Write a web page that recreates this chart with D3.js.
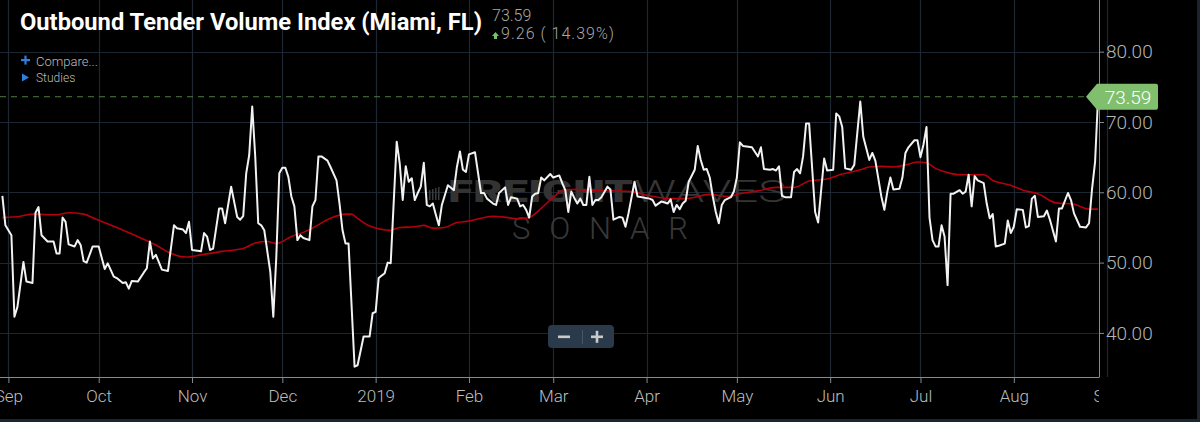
<!DOCTYPE html>
<html>
<head>
<meta charset="utf-8">
<script src="https://cdn.jsdelivr.net/npm/d3@7"></script>
<style>
  html, body { margin: 0; padding: 0; background: #000; }
  svg { display: block; font-family: Roboto, "Open Sans", sans-serif; }
</style>
</head>
<body>
<div id="chart"></div>
<script>
// Outbound Tender Volume Index (Miami, FL), daily, Sep 2018 - Aug 2019
var tenderDates = [
  "2018-08-30","2018-08-31","2018-09-02","2018-09-03","2018-09-04","2018-09-06","2018-09-07","2018-09-09",
  "2018-09-10","2018-09-11","2018-09-12","2018-09-14","2018-09-16","2018-09-17","2018-09-18","2018-09-19",
  "2018-09-20","2018-09-21","2018-09-23","2018-09-24","2018-09-25","2018-09-26","2018-09-27","2018-09-29",
  "2018-10-01","2018-10-03","2018-10-04","2018-10-06","2018-10-07","2018-10-09","2018-10-10","2018-10-11",
  "2018-10-12","2018-10-14","2018-10-16","2018-10-17","2018-10-18","2018-10-19","2018-10-20","2018-10-22",
  "2018-10-24","2018-10-26","2018-10-27","2018-10-29","2018-10-30","2018-10-31","2018-11-01","2018-11-04",
  "2018-11-05","2018-11-06","2018-11-07","2018-11-08","2018-11-10","2018-11-11","2018-11-12","2018-11-14",
  "2018-11-16","2018-11-17","2018-11-18","2018-11-19","2018-11-20","2018-11-21","2018-11-22","2018-11-23",
  "2018-11-24","2018-11-25","2018-11-27","2018-11-28","2018-11-29","2018-11-30","2018-12-01","2018-12-02",
  "2018-12-03","2018-12-04","2018-12-05","2018-12-06","2018-12-07","2018-12-08","2018-12-10","2018-12-11",
  "2018-12-12","2018-12-13","2018-12-14","2018-12-16","2018-12-17","2018-12-19","2018-12-20","2018-12-21",
  "2018-12-22","2018-12-23","2018-12-25","2018-12-26","2018-12-28","2018-12-30","2018-12-31","2019-01-01",
  "2019-01-02","2019-01-04","2019-01-05","2019-01-06","2019-01-08","2019-01-09","2019-01-10","2019-01-11",
  "2019-01-12","2019-01-13","2019-01-14","2019-01-15","2019-01-16","2019-01-17","2019-01-18","2019-01-19",
  "2019-01-20","2019-01-21","2019-01-22","2019-01-23","2019-01-25","2019-01-27","2019-01-28","2019-01-29",
  "2019-01-30","2019-01-31","2019-02-01","2019-02-03","2019-02-05","2019-02-06","2019-02-07","2019-02-09",
  "2019-02-10","2019-02-11","2019-02-13","2019-02-14","2019-02-15","2019-02-17","2019-02-18","2019-02-19",
  "2019-02-20","2019-02-21","2019-02-22","2019-02-23","2019-02-24","2019-02-25","2019-02-26","2019-02-28",
  "2019-03-01","2019-03-03","2019-03-04","2019-03-05","2019-03-06","2019-03-07","2019-03-08","2019-03-09",
  "2019-03-10","2019-03-11","2019-03-12","2019-03-13","2019-03-14","2019-03-15","2019-03-16","2019-03-17",
  "2019-03-19","2019-03-20","2019-03-21","2019-03-23","2019-03-24","2019-03-25","2019-03-26","2019-03-28",
  "2019-03-29","2019-04-02","2019-04-03","2019-04-04","2019-04-06","2019-04-08","2019-04-09","2019-04-10",
  "2019-04-11","2019-04-12","2019-04-13","2019-04-14","2019-04-15","2019-04-17","2019-04-18","2019-04-19",
  "2019-04-20","2019-04-21","2019-04-22","2019-04-23","2019-04-24","2019-04-25","2019-04-26","2019-04-27",
  "2019-04-29","2019-04-30","2019-05-01","2019-05-02","2019-05-03","2019-05-06","2019-05-08","2019-05-09",
  "2019-05-10","2019-05-12","2019-05-13","2019-05-14","2019-05-15","2019-05-16","2019-05-17","2019-05-19",
  "2019-05-20","2019-05-21","2019-05-22","2019-05-23","2019-05-24","2019-05-25","2019-05-27","2019-05-28",
  "2019-05-29","2019-05-30","2019-05-31","2019-06-02","2019-06-03","2019-06-04","2019-06-05","2019-06-06",
  "2019-06-08","2019-06-09","2019-06-11","2019-06-12","2019-06-14","2019-06-15","2019-06-16","2019-06-18",
  "2019-06-19","2019-06-20","2019-06-21","2019-06-22","2019-06-24","2019-06-25","2019-06-26","2019-06-27",
  "2019-06-29","2019-06-30","2019-07-01","2019-07-02","2019-07-03","2019-07-04","2019-07-05","2019-07-06",
  "2019-07-07","2019-07-08","2019-07-09","2019-07-10","2019-07-11","2019-07-12","2019-07-14","2019-07-15",
  "2019-07-16","2019-07-17","2019-07-18","2019-07-19","2019-07-20","2019-07-22","2019-07-23","2019-07-24",
  "2019-07-25","2019-07-26","2019-07-27","2019-07-29","2019-07-30","2019-07-31","2019-08-01","2019-08-02",
  "2019-08-04","2019-08-05","2019-08-06","2019-08-07","2019-08-08","2019-08-09","2019-08-11","2019-08-12",
  "2019-08-13","2019-08-15","2019-08-16","2019-08-17","2019-08-19","2019-08-20","2019-08-21","2019-08-23",
  "2019-08-25","2019-08-26","2019-08-27","2019-08-28","2019-08-29"
];
var tenderValues = [
  59.5, 55.3, 53.9, 42.3, 43.7, 50.1, 47.3, 47.1,
  57.1, 57.9, 53.9, 53.0, 53.0, 51.3, 51.3, 56.4,
  55.8, 52.6, 52.3, 53.2, 52.5, 50.2, 50.0, 52.3,
  52.3, 49.1, 49.9, 48.0, 47.8, 47.1, 47.2, 46.3,
  47.4, 47.3, 48.6, 49.2, 53.0, 50.6, 51.1, 49.0,
  48.8, 55.3, 54.9, 54.7, 54.2, 55.8, 51.8, 51.6,
  54.2, 53.7, 51.8, 52.0, 57.7, 57.7, 55.6, 60.8,
  56.5, 56.1, 56.6, 62.7, 65.3, 72.2, 65.1, 55.6,
  55.3, 54.6, 48.7, 42.3, 50.8, 62.7, 63.5, 63.5,
  62.2, 59.4, 58.0, 53.2, 53.9, 53.5, 53.2, 58.0,
  58.9, 65.1, 65.1, 64.5, 63.6, 61.7, 58.4, 54.6,
  52.7, 52.7, 35.2, 35.4, 39.5, 39.5, 42.8, 43.0,
  47.8, 48.5, 50.0, 49.9, 67.2, 64.1, 58.9, 63.7,
  61.5, 62.0, 58.9, 59.9, 60.8, 64.2, 58.2, 58.0,
  58.4, 56.8, 55.3, 58.2, 61.0, 60.3, 63.6, 65.8,
  63.2, 62.9, 65.4, 65.7, 59.9, 59.9, 59.1, 58.4,
  58.2, 59.9, 60.7, 58.2, 59.3, 59.1, 58.0, 58.2,
  57.5, 56.4, 59.4, 59.8, 59.9, 62.1, 61.7, 62.6,
  62.1, 62.4, 61.3, 60.3, 57.2, 60.1, 59.2, 58.4,
  59.1, 58.2, 58.2, 62.2, 58.2, 58.9, 58.9, 59.3,
  60.8, 60.4, 56.1, 56.5, 56.4, 55.1, 57.0, 61.5,
  59.4, 59.1, 58.9, 58.1, 58.7, 58.4, 59.0, 57.2,
  58.2, 57.6, 58.4, 58.8, 61.5, 63.2, 66.6, 64.6,
  63.2, 63.3, 62.1, 59.4, 57.2, 55.6, 58.2, 58.9,
  59.3, 60.1, 62.1, 67.1, 66.6, 66.4, 65.1, 66.4,
  63.3, 63.2, 63.3, 63.1, 63.7, 59.5, 59.3, 59.3,
  62.9, 63.3, 62.7, 65.1, 69.8, 69.8, 57.2, 55.7,
  60.3, 64.8, 63.1, 63.2, 71.2, 70.8, 69.3, 63.4,
  63.2, 63.9, 72.9, 67.9, 64.6, 65.6, 64.5, 59.4,
  57.5, 60.1, 62.1, 60.4, 60.5, 62.1, 65.6, 66.4,
  67.4, 67.4, 65.0, 66.8, 69.3, 56.4, 53.2, 52.3,
  52.3, 55.3, 53.7, 46.8, 59.8, 59.8, 60.3, 59.8,
  60.1, 62.5, 58.0, 62.3, 61.7, 61.3, 58.4, 56.3,
  56.9, 52.3, 52.4, 52.7, 56.0, 54.2, 55.1, 57.6,
  57.5, 55.0, 55.2, 59.1, 59.5, 56.5, 56.6, 57.4,
  56.1, 53.0, 57.7, 57.7, 59.9, 58.9, 57.0, 55.1,
  55.0, 55.6, 60.5, 64.33, 73.59
];

// moving average (red)
var maDates = [
  "2018-08-30","2018-09-05","2018-09-09","2018-09-17","2018-09-21","2018-09-26","2018-09-30","2018-10-07",
  "2018-10-15","2018-10-20","2018-10-25","2018-10-30","2018-11-04","2018-11-11","2018-11-18","2018-11-22",
  "2018-11-26","2018-11-29","2018-12-04","2018-12-08","2018-12-11","2018-12-17","2018-12-22","2018-12-24",
  "2018-12-26","2018-12-30","2019-01-06","2019-01-09","2019-01-14","2019-01-17","2019-01-20","2019-01-24",
  "2019-01-28","2019-02-01","2019-02-05","2019-02-09","2019-02-14","2019-02-18","2019-02-21","2019-02-25",
  "2019-03-01","2019-03-05","2019-03-08","2019-03-13","2019-03-20","2019-03-27","2019-04-02","2019-04-09",
  "2019-04-14","2019-04-22","2019-04-28","2019-05-02","2019-05-08","2019-05-14","2019-05-20","2019-05-25",
  "2019-05-31","2019-06-05","2019-06-11","2019-06-14","2019-06-18","2019-06-22","2019-06-26","2019-06-30",
  "2019-07-03","2019-07-06","2019-07-10","2019-07-14","2019-07-22","2019-07-25","2019-07-31","2019-08-04",
  "2019-08-09","2019-08-15","2019-08-21","2019-08-26","2019-08-29"
];
var maValues = [
  56.4, 56.6, 56.9, 56.8, 57.1, 56.9, 56.2, 55.0,
  53.5, 52.5, 51.3, 50.8, 51.1, 51.6, 52.0, 52.8,
  53.0, 52.7, 53.7, 54.3, 54.9, 56.3, 56.9, 56.9,
  56.3, 55.2, 54.6, 55.0, 55.1, 55.3, 54.9, 55.0,
  55.7, 55.9, 56.3, 56.6, 56.4, 56.2, 56.4, 57.7,
  59.3, 60.4, 60.4, 60.3, 60.2, 60.1, 59.5, 59.1,
  59.1, 59.7, 59.4, 59.8, 60.2, 60.7, 60.7, 61.6,
  61.9, 62.6, 63.2, 63.6, 63.7, 63.6, 63.9, 64.3,
  64.2, 63.4, 62.8, 62.5, 62.5, 61.7, 61.0, 60.3,
  59.8, 58.5, 58.3, 57.6, 57.6
];

var yTicks = [40, 50, 60, 70, 80];
var monthTicks = ["2018-09-01","2018-10-01","2018-11-01","2018-12-01","2019-01-01","2019-02-01",
  "2019-03-01","2019-04-01","2019-05-01","2019-06-01","2019-07-01","2019-08-01","2019-09-01"];

var titleText = "Outbound Tender Volume Index (Miami, FL)";
var lastValue = 73.59;
var changeText = "9.26 ( 14.39%)";

var width = 1200, height = 422;
var plotRight = 1099, plotBottom = 377;
var gridColor = "#1c2731";
var parse = d3.timeParse("%Y-%m-%d");

// calibrate time scale on the month ticks, then cover the plot width
var xCal = d3.scaleTime()
    .domain([parse("2018-09-01"), parse("2019-08-01")])
    .range([8.4, 1013.8]);
var x = d3.scaleTime()
    .domain([xCal.invert(0), xCal.invert(plotRight)])
    .range([0, plotRight]);
var y = d3.scaleLinear()
    .domain([33.73, 87.35])
    .range([plotBottom, 0]);

var tender = tenderDates.map(function(d, i) { return {date: parse(d), value: tenderValues[i]}; });
var ma = maDates.map(function(d, i) { return {date: parse(d), value: maValues[i]}; });
var months = monthTicks.map(parse);

var svg = d3.select("#chart").append("svg")
    .attr("width", width)
    .attr("height", height);

svg.append("rect").attr("width", width).attr("height", height).attr("fill", "#000");

var defs = svg.append("defs");
defs.append("clipPath").attr("id", "plotClip")
    .append("rect").attr("x", 0).attr("y", 0).attr("width", plotRight).attr("height", plotBottom);
defs.append("clipPath").attr("id", "xLabelClip")
    .append("rect").attr("x", 0).attr("y", -2).attr("width", plotRight).attr("height", 50);

// grid
svg.append("g").selectAll("line")
    .data(yTicks).enter().append("line")
    .attr("x1", 0).attr("x2", plotRight)
    .attr("y1", function(d) { return Math.round(y(d)) + 0.5; })
    .attr("y2", function(d) { return Math.round(y(d)) + 0.5; })
    .attr("stroke", gridColor).attr("stroke-width", 1.2);

svg.append("g").selectAll("line")
    .data(months).enter().append("line")
    .attr("x1", function(d) { return Math.round(x(d)) + 0.5; })
    .attr("x2", function(d) { return Math.round(x(d)) + 0.5; })
    .attr("y1", 0).attr("y2", plotBottom)
    .attr("stroke", gridColor).attr("stroke-width", 1.2);

// watermark
var wm = svg.append("g").attr("class", "watermark");
wm.append("text")
    .attr("x", 448).attr("y", 202)
    .attr("font-size", 31).attr("font-weight", 900)
    .attr("fill", "#333333")
    .attr("textLength", 185).attr("lengthAdjust", "spacingAndGlyphs")
    .text("FREIGHT");
wm.append("text")
    .attr("x", 634).attr("y", 202)
    .attr("font-size", 31).attr("font-weight", 300)
    .attr("fill", "#353535")
    .attr("textLength", 152).attr("lengthAdjust", "spacingAndGlyphs")
    .text("WAVES");
wm.append("text")
    .attr("x", 512).attr("y", 239)
    .attr("font-size", 31).attr("font-weight", 300)
    .attr("fill", "#383838")
    .attr("textLength", 176).attr("lengthAdjust", "spacing")
    .text("SONAR");
wm.selectAll("rect.bar")
    .data([0, 1, 2, 3]).enter().append("rect")
    .attr("x", function(d) { return 429 + d * 3; })
    .attr("y", function(d) { return 190 - d; })
    .attr("width", 1.5)
    .attr("height", function(d) { return 10 + d; })
    .attr("fill", "#3a3a3a");

// last value dashed line
svg.append("line")
    .attr("x1", 0).attr("x2", 1086)
    .attr("y1", y(lastValue)).attr("y2", y(lastValue))
    .attr("stroke", "#4f7d42").attr("stroke-width", 1)
    .attr("stroke-dasharray", "6,5");

// series
var plot = svg.append("g").attr("clip-path", "url(#plotClip)");

var line = d3.line()
    .x(function(d) { return x(d.date); })
    .y(function(d) { return y(d.value); });

plot.append("path")
    .datum(ma)
    .attr("d", line.curve(d3.curveMonotoneX))
    .attr("fill", "none")
    .attr("stroke", "#b3000c")
    .attr("stroke-width", 1.6);

plot.append("path")
    .datum(tender)
    .attr("d", line.curve(d3.curveLinear))
    .attr("fill", "none")
    .attr("stroke", "#f2f2f2")
    .attr("stroke-width", 2)
    .attr("stroke-linejoin", "round");

// right axis
var yAxis = svg.append("g")
    .attr("transform", "translate(" + plotRight + ",0)")
    .call(d3.axisRight(y).tickValues(yTicks).tickFormat(d3.format(".2f")).tickSize(5).tickPadding(2));
yAxis.select(".domain").remove();
yAxis.selectAll(".tick line").attr("stroke", "#8a8a8a");
yAxis.selectAll(".tick text")
    .attr("fill", "#b4b4b4")
    .attr("font-size", 19)
    .attr("font-weight", 300)
    .attr("font-family", "Roboto, sans-serif");
svg.append("line")
    .attr("x1", plotRight + 0.5).attr("x2", plotRight + 0.5)
    .attr("y1", 0).attr("y2", plotBottom)
    .attr("stroke", "#8a8a8a").attr("stroke-width", 1);

// bottom axis
var xAxis = svg.append("g")
    .attr("transform", "translate(0," + plotBottom + ")");
xAxis.append("g")
    .attr("clip-path", "url(#xLabelClip)")
    .call(d3.axisBottom(x).tickValues(months).tickSize(6).tickPadding(7)
        .tickFormat(function(d) {
            return d.getMonth() === 0 ? d3.timeFormat("%Y")(d) : d3.timeFormat("%b")(d);
        }))
    .call(function(g) {
        g.select(".domain").remove();
        g.selectAll(".tick line").attr("stroke", "#8a8a8a");
        g.selectAll(".tick text")
            .attr("fill", "#bdbdbd")
            .attr("font-size", 17)
            .attr("font-weight", 300)
            .attr("font-family", "Roboto, sans-serif");
    });
xAxis.append("line")
    .attr("x1", 0).attr("x2", plotRight + 0.5)
    .attr("y1", 0.5).attr("y2", 0.5)
    .attr("stroke", "#8a8a8a").attr("stroke-width", 1);

// last value label
var ly = y(lastValue);
svg.append("path")
    .attr("d", "M1086," + ly + " L1097," + (ly - 13) + " L1156," + (ly - 13) +
        " Q1158," + (ly - 13) + " 1158," + (ly - 11) + " L1158," + (ly + 11) +
        " Q1158," + (ly + 13) + " 1156," + (ly + 13) + " L1097," + (ly + 13) + " Z")
    .attr("fill", "#7fbf6e");
svg.append("text")
    .attr("x", 1128).attr("y", ly + 7)
    .attr("text-anchor", "middle")
    .attr("font-size", 19).attr("font-weight", 300)
    .attr("fill", "#ffffff")
    .text(d3.format(".2f")(lastValue));

// header
svg.append("text")
    .attr("x", 20).attr("y", 30)
    .attr("font-size", 24).attr("font-weight", 700)
    .attr("fill", "#ffffff")
    .attr("textLength", 462).attr("lengthAdjust", "spacingAndGlyphs")
    .text(titleText);
svg.append("text")
    .attr("x", 492).attr("y", 21)
    .attr("font-size", 16).attr("font-weight", 300)
    .attr("fill", "#a8a8a8")
    .text(d3.format(".2f")(lastValue));
svg.append("path")
    .attr("d", "M495.5,32 L499,36 L497,36 L497,39 L494,39 L494,36 L492,36 Z")
    .attr("fill", "#74c26a");
svg.append("text")
    .attr("x", 501).attr("y", 39)
    .attr("font-size", 16).attr("font-weight", 300)
    .attr("fill", "#a8a8a8")
    .attr("textLength", 113).attr("lengthAdjust", "spacing")
    .text(changeText);

// "+ Compare..." and "Studies" links
svg.append("rect").attr("x", 21).attr("y", 59).attr("width", 9).attr("height", 2.2).attr("fill", "#2f7fe0");
svg.append("rect").attr("x", 24.4).attr("y", 55.6).attr("width", 2.2).attr("height", 9).attr("fill", "#2f7fe0");
svg.append("text")
    .attr("x", 36).attr("y", 66)
    .attr("font-size", 13).attr("font-weight", 300)
    .attr("fill", "#bdbdbd")
    .text("Compare...");
svg.append("path")
    .attr("d", "M22,73.5 L29,77.5 L22,81.5 Z")
    .attr("fill", "#2f7fe0");
svg.append("text")
    .attr("x", 36).attr("y", 82)
    .attr("font-size", 12).attr("font-weight", 300)
    .attr("fill", "#bdbdbd")
    .text("Studies");

// zoom buttons
var zb = svg.append("g");
zb.append("rect")
    .attr("x", 548).attr("y", 325).attr("width", 66).attr("height", 23).attr("rx", 4)
    .attr("fill", "#2a3a4b");
zb.append("line")
    .attr("x1", 582.5).attr("x2", 582.5).attr("y1", 330).attr("y2", 344)
    .attr("stroke", "#44566a").attr("stroke-width", 1);
zb.append("rect")
    .attr("x", 558).attr("y", 335.5).attr("width", 12).attr("height", 2.6)
    .attr("fill", "#c9c9c9");
zb.append("rect")
    .attr("x", 591).attr("y", 335.5).attr("width", 12).attr("height", 2.6)
    .attr("fill", "#c9c9c9");
zb.append("rect")
    .attr("x", 595.7).attr("y", 330.8).attr("width", 2.6).attr("height", 12)
    .attr("fill", "#c9c9c9");

// frame
svg.append("rect").attr("x", 0).attr("y", 419).attr("width", width).attr("height", 3).attr("fill", "#1b2530");
svg.append("rect").attr("x", 1197).attr("y", 0).attr("width", 3).attr("height", height).attr("fill", "#1b2530");
</script>
</body>
</html>
